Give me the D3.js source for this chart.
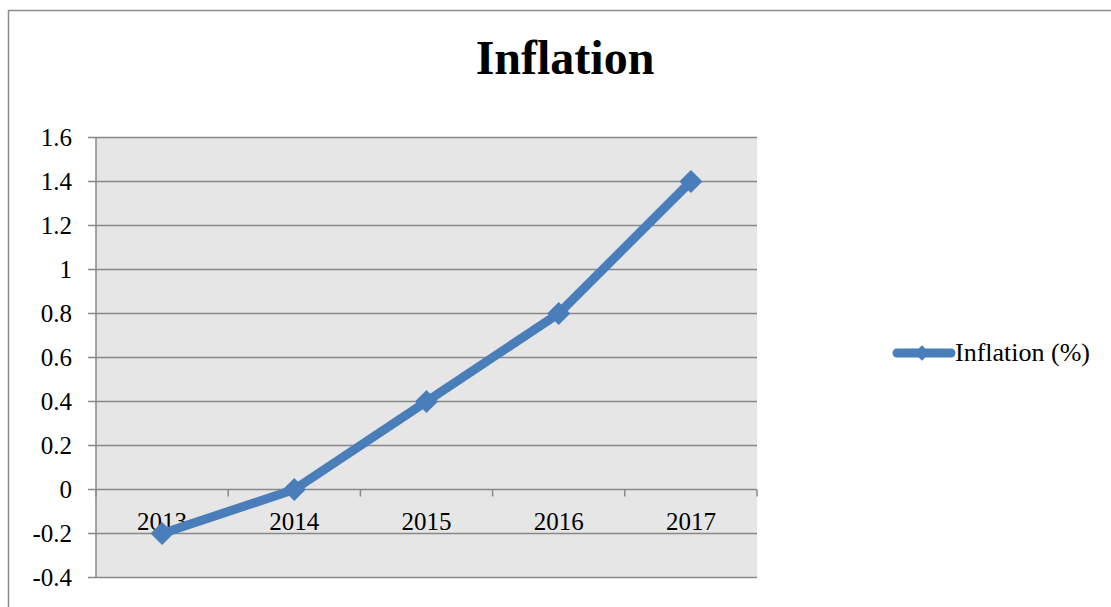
<!DOCTYPE html>
<html>
<head>
<meta charset="utf-8">
<script src="https://cdn.jsdelivr.net/npm/d3@7"></script>
<style>
html,body{margin:0;padding:0;background:#fff;}
svg{display:block;}
</style>
</head>
<body>
<script>
const years = ["2013","2014","2015","2016","2017"];
const inflation = [-0.2, 0, 0.4, 0.8, 1.4];
const yTicks = [-0.4,-0.2,0,0.2,0.4,0.6,0.8,1,1.2,1.4,1.6];
const seriesName = "Inflation (%)";
const title = "Inflation";

const W = 1111, H = 607;
const svg = d3.select("body").append("svg").attr("width", W).attr("height", H);
const font = "'Liberation Serif','Times New Roman',serif";
const blue = "#4a7ebb";
const grid = "#888888";

// outer chart border
svg.append("rect").attr("x", 8.5).attr("y", 10.5).attr("width", 1120).attr("height", 620)
  .attr("fill", "#fff").attr("stroke", "#8c8c8c").attr("stroke-width", 1.5);

const L = 96, R = 757, T = 137.5, B = 577.5;
const x = d3.scaleBand().domain(years).range([L, R]);
const y = d3.scaleLinear().domain([-0.4, 1.6]).range([B, T]);

svg.append("rect").attr("x", L).attr("y", T).attr("width", R - L).attr("height", B - T)
  .attr("fill", "#e6e6e6");

// gridlines
svg.append("g").selectAll("line").data(yTicks).join("line")
  .attr("x1", L - 8).attr("x2", R).attr("y1", d => y(d)).attr("y2", d => y(d))
  .attr("stroke", grid).attr("stroke-width", 1.5);

// y axis line
svg.append("line").attr("x1", L).attr("x2", L).attr("y1", T).attr("y2", B)
  .attr("stroke", grid).attr("stroke-width", 1.5);

// y labels
const yAxis = d3.axisLeft(y).tickValues(yTicks).tickSize(0).tickPadding(24)
  .tickFormat(d => String(Math.round(d * 10) / 10));
const yg = svg.append("g").attr("transform", `translate(${L},0)`).call(yAxis)
  .attr("font-family", font).attr("font-size", 25);
yg.select(".domain").remove();
yg.selectAll("text").attr("fill", "#000");

// x axis on zero line
const xAxis = d3.axisBottom(x).tickSize(0).tickPadding(0);
const xg = svg.append("g").attr("transform", `translate(0,${y(0)})`).call(xAxis)
  .attr("font-family", font).attr("font-size", 25);
xg.select(".domain").remove();
xg.selectAll("text").attr("fill", "#000").attr("dy", "0").attr("y", 40);
// x tick marks at band boundaries
const bounds = years.map(d => x(d)).concat([x(years[years.length - 1]) + x.bandwidth()]);
svg.append("g").selectAll("line").data(bounds).join("line")
  .attr("x1", d => d).attr("x2", d => d).attr("y1", y(0)).attr("y2", y(0) + 7)
  .attr("stroke", grid).attr("stroke-width", 1.5);

// series line
const cx = d => x(d) + x.bandwidth() / 2;
const line = d3.line().x((d, i) => cx(years[i])).y(d => y(d));
svg.append("path").datum(inflation).attr("d", line)
  .attr("fill", "none").attr("stroke", blue).attr("stroke-width", 9)
  .attr("stroke-linejoin", "round").attr("stroke-linecap", "round");

const diamond = d3.symbol().type(d3.symbolDiamond2).size(340);
svg.append("g").selectAll("path").data(inflation).join("path")
  .attr("d", diamond)
  .attr("transform", (d, i) => `translate(${cx(years[i])},${y(d)})`)
  .attr("fill", blue);

// title
svg.append("text").attr("x", 565).attr("y", 74).attr("text-anchor", "middle")
  .attr("font-family", font).attr("font-weight", "bold").attr("font-size", 48)
  .text(title);

// legend
const ly = 353;
svg.append("line").attr("x1", 897).attr("x2", 951).attr("y1", ly).attr("y2", ly)
  .attr("stroke", blue).attr("stroke-width", 9).attr("stroke-linecap", "round");
svg.append("path").attr("d", d3.symbol().type(d3.symbolDiamond2).size(150))
  .attr("transform", `translate(922,${ly})`).attr("fill", blue);
svg.append("text").attr("x", 955).attr("y", ly + 8).attr("font-family", font)
  .attr("font-size", 26).attr("fill", "#000").text(seriesName);
</script>
</body>
</html>
